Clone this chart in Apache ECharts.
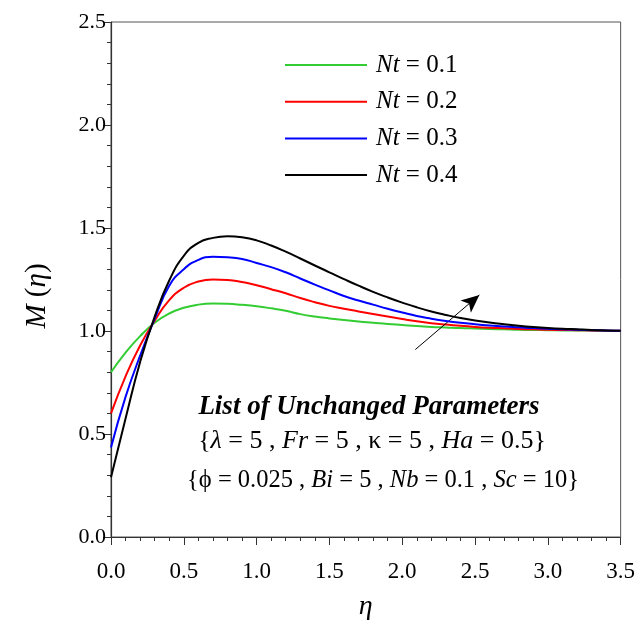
<!DOCTYPE html>
<html>
<head>
<meta charset="utf-8">
<script src="https://cdn.jsdelivr.net/npm/echarts@6/dist/echarts.min.js"></script>
<style>
  html, body { margin: 0; padding: 0; background: #fff; }
</style>
</head>
<body>
<div id="main" style="width: 638px; height: 630px;"></div>
<script>
// eta values (x axis)
const eta = [0.0, 0.1, 0.2, 0.3, 0.4, 0.5, 0.6, 0.7, 0.8, 0.9,
    1.0, 1.1, 1.2, 1.3, 1.4, 1.5, 1.6, 1.7, 1.8, 1.9,
    2.0, 2.1, 2.2, 2.3, 2.4, 2.5, 2.6, 2.7, 2.8, 2.9,
    3.0, 3.1, 3.2, 3.3, 3.4, 3.5]

// M(eta) for each Nt
const nt01 = [0.80, 0.895, 0.975, 1.04, 1.085, 1.113, 1.128, 1.133, 1.132, 1.127,
    1.12, 1.11, 1.098, 1.082, 1.07, 1.061, 1.053, 1.046, 1.04, 1.034,
    1.029, 1.024, 1.02, 1.017, 1.014, 1.012, 1.01, 1.008, 1.006, 1.005,
    1.004, 1.003, 1.002, 1.002, 1.001, 1.0]
const nt02 = [0.60, 0.78, 0.93, 1.05, 1.15, 1.21, 1.24, 1.25, 1.248, 1.238,
    1.222, 1.203, 1.183, 1.16, 1.14, 1.122, 1.108, 1.095, 1.082, 1.07,
    1.058, 1.047, 1.038, 1.031, 1.025, 1.02, 1.016, 1.013, 1.01, 1.008,
    1.006, 1.005, 1.004, 1.003, 1.002, 1.001]
const nt03 = [0.435, 0.68, 0.88, 1.06, 1.22, 1.30, 1.345, 1.36, 1.358, 1.35,
    1.33, 1.31, 1.285, 1.255, 1.225, 1.197, 1.17, 1.148, 1.128, 1.108,
    1.09, 1.073, 1.06, 1.049, 1.04, 1.033, 1.027, 1.022, 1.018, 1.014,
    1.011, 1.008, 1.006, 1.004, 1.002, 1.001]
const nt04 = [0.29, 0.575, 0.85, 1.07, 1.245, 1.365, 1.428, 1.452, 1.46, 1.455,
    1.44, 1.415, 1.385, 1.352, 1.318, 1.285, 1.252, 1.22, 1.19, 1.163,
    1.138, 1.115, 1.095, 1.078, 1.063, 1.051, 1.041, 1.033, 1.026, 1.02,
    1.015, 1.011, 1.008, 1.005, 1.003, 1.001]

const names = ['Nt = 0.1', 'Nt = 0.2', 'Nt = 0.3', 'Nt = 0.4']
const colors = ['#33cc33', '#ff0000', '#0000ff', '#000000']

// arrow showing increasing Nt
const arrowFrom = [2.09, 0.91]
const arrowTo = [2.53, 1.175]

const serif = 'Liberation Serif'

function pairs(ys) {
    return eta.map((x, i) => [x, ys[i]])
}

const chart = echarts.init(document.getElementById('main'))

const allSeries = [nt01, nt02, nt03, nt04].map((ys, i) => ({
    name: names[i],
    type: 'line',
    data: pairs(ys),
    smooth: true,
    symbol: 'none',
    lineStyle: { color: colors[i], width: 2 },
    itemStyle: { color: colors[i] },
    z: 3 + i
}))

allSeries[3].markLine = {
    silent: true,
    symbol: ['none', 'arrow'],
    symbolSize: [12, 18],
    label: { show: false },
    lineStyle: { color: '#000', width: 1, type: 'solid' },
    data: [[{ coord: arrowFrom }, { coord: arrowTo }]]
}

const option = {
    animation: false,
    grid: {
        left: 111,
        right: 17,
        top: 22,
        bottom: 93,
        show: true,
        borderColor: '#555',
        borderWidth: 1
    },
    legend: {
        orient: 'vertical',
        left: 285,
        top: 52,
        padding: 0,
        icon: 'rect',
        itemWidth: 82,
        itemHeight: 2,
        itemGap: 10.7,
        data: names,
        formatter: name => name.replace('Nt', '{i|Nt}'),
        textStyle: {
            fontFamily: serif,
            fontSize: 25,
            lineHeight: 26,
            color: '#000',
            padding: [0, 0, 0, 4],
            rich: {
                i: { fontFamily: serif, fontStyle: 'italic', fontSize: 25, lineHeight: 26, color: '#000' }
            }
        }
    },
    xAxis: {
        type: 'value',
        min: 0,
        max: 3.5,
        interval: 0.5,
        name: '{i|η}',
        nameLocation: 'middle',
        nameGap: 56,
        nameTextStyle: {
            rich: { i: { fontFamily: serif, fontStyle: 'italic', fontSize: 28, color: '#000' } }
        },
        axisLine: { lineStyle: { color: '#333', width: 1.2 } },
        axisTick: { inside: false, length: 8, lineStyle: { color: '#333' } },
        minorTick: { show: true, splitNumber: 5, length: 4, lineStyle: { color: '#333' } },
        splitLine: { show: false },
        axisLabel: {
            fontFamily: serif,
            fontSize: 23,
            color: '#000',
            margin: 23,
            formatter: v => v.toFixed(1)
        }
    },
    yAxis: {
        type: 'value',
        min: 0,
        max: 2.5,
        interval: 0.5,
        axisLine: { show: true, lineStyle: { color: '#333', width: 1.2 } },
        axisTick: { show: true, inside: false, length: 8, lineStyle: { color: '#333' } },
        minorTick: { show: true, splitNumber: 5, length: 4, lineStyle: { color: '#333' } },
        splitLine: { show: false },
        axisLabel: {
            fontFamily: serif,
            fontSize: 22,
            color: '#000',
            margin: 5,
            formatter: v => v.toFixed(1)
        }
    },
    graphic: [
        {
            // y axis title
            type: 'text',
            x: 37,
            y: 296,
            rotation: Math.PI / 2,
            style: {
                text: '{i|M} ({i|η})',
                textAlign: 'center',
                textVerticalAlign: 'middle',
                fontFamily: serif,
                fontSize: 29,
                fill: '#000',
                rich: { i: { fontFamily: serif, fontStyle: 'italic', fontSize: 29 } }
            }
        },
        {
            type: 'text',
            x: 369,
            y: 407,
            style: {
                text: 'List of Unchanged Parameters',
                textAlign: 'center',
                textVerticalAlign: 'middle',
                fontFamily: serif,
                fontSize: 27,
                fontWeight: 'bold',
                fontStyle: 'italic',
                fill: '#000'
            }
        },
        {
            type: 'text',
            x: 372,
            y: 441,
            style: {
                text: '{{i|λ} = 5 , {i|Fr} = 5 , κ = 5 , {i|Ha} = 0.5}',
                textAlign: 'center',
                textVerticalAlign: 'middle',
                fontFamily: serif,
                fontSize: 26,
                fill: '#000',
                rich: { i: { fontFamily: serif, fontStyle: 'italic', fontSize: 26 } }
            }
        },
        {
            type: 'text',
            x: 383,
            y: 481,
            style: {
                text: '{ϕ = 0.025 , {i|Bi} = 5 , {i|Nb} = 0.1 , {i|Sc} = 10}',
                textAlign: 'center',
                textVerticalAlign: 'middle',
                fontFamily: serif,
                fontSize: 24.5,
                fill: '#000',
                rich: { i: { fontFamily: serif, fontStyle: 'italic', fontSize: 24.5 } }
            }
        }
    ],
    series: allSeries
}

chart.setOption(option)
</script>
</body>
</html>
